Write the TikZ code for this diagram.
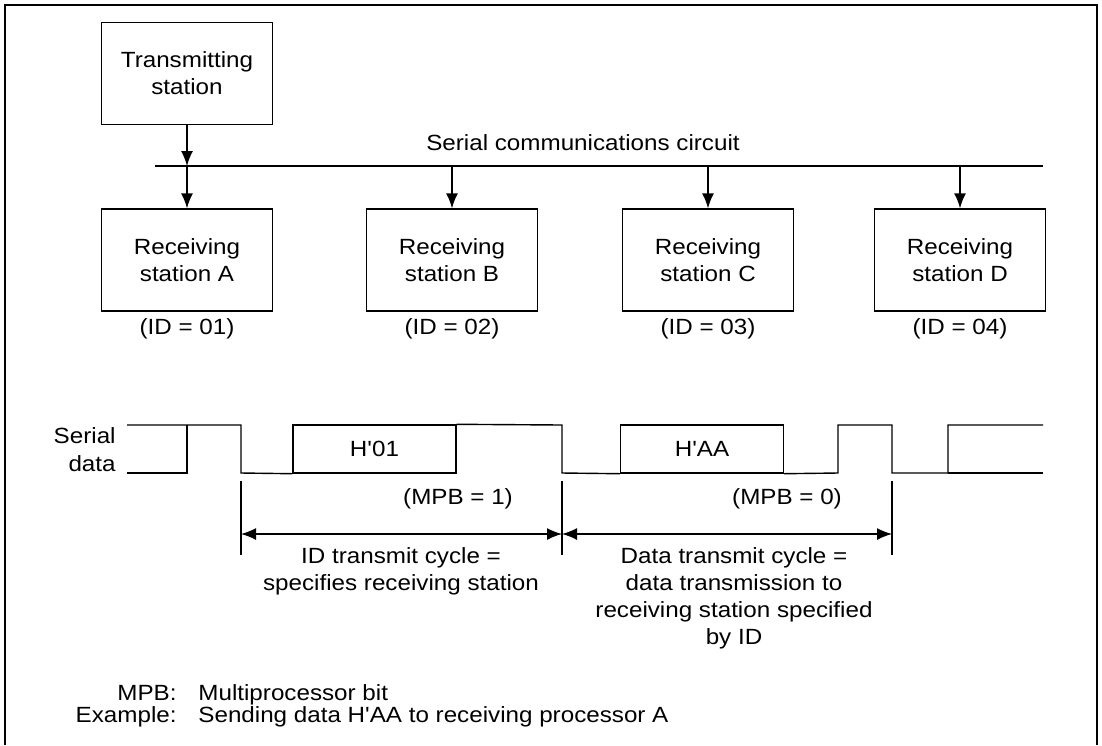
\documentclass[tikz,border=0pt]{standalone}
\usepackage{fontspec}
\setmainfont[FakeStretch=1.1,Ligatures=TeXOff]{Liberation Sans}
\usetikzlibrary{arrows.meta,positioning,calc}

\begin{document}
\begin{tikzpicture}[x=0.5pt,y=-0.5pt,>={Latex[length=7.5pt,width=6pt]},
  every node/.style={font=\fontsize{11}{13.5}\selectfont,inner sep=0pt},
  station/.style={draw,line width=0.7pt,minimum width=85.5pt,minimum height=51pt,align=center},
  dataframe/.style={draw,line width=0.7pt,minimum width=81.5pt,minimum height=24pt},
  wire/.style={line width=0.7pt}]
  \useasboundingbox (0,0) rectangle (1102,745);
  \draw[line width=1pt] (5,745) -- (5,5) -- (1097,5) -- (1097,745);
  % stations and bus
  \node[station] (tx) at (187,73.5) {Transmitting\\station};
  \coordinate (busL) at (155,166);
  \coordinate (busR) at (1043,166);
  \draw[wire] (busL) -- (busR);
  \node (buslabel) at (583,143) {Serial communications circuit};
  \draw[wire,->] (tx.south) -- (tx.south |- busL);
  \foreach \s/\x/\n in {A/187/01,B/452/02,C/708/03,D/960/04}{
    \node[station] (rx\s) at (\x,260) {Receiving\\station \s};
    \draw[wire,->] (rx\s.north |- busL) -- (rx\s.north);
    \node (id\s) at (\x,329) {(ID = \n)};
  }
  % serial data waveform
  \node[align=right,anchor=north east,font=\fontsize{11}{14}\selectfont] (serlabel) at (116,427) {Serial\\data};
  \node[dataframe] (f01) at (374.5,449) {H'01};
  \node[dataframe] (fAA) at (702,449) {H'AA};
  \draw[wire] (127,473) -- (187,473) -- (187,425);
  \draw[wire] (127,425) -- (241,425) -- (241,473) -- (f01.south west);
  \draw[wire] (f01.north east) -- (562,425) -- (562,473) -- (fAA.south west);
  \draw[wire] (fAA.south east) -- (838,473) -- (838,425) -- (892,425) -- (892,473)
    -- (948,473) -- (948,425) -- (1043,425);
  \draw[wire] (948,473) -- (1043,473);
  \node (mpb1) at (458,499) {(MPB = 1)};
  \node (mpb0) at (787,499) {(MPB = 0)};
  % transmit cycles
  \foreach \n/\x in {1/241,2/562,3/892}{
    \draw[wire] (\x,481) -- (\x,555);
    \coordinate (dim\n) at (\x,534);
  }
  \draw[wire,<->] (dim1) -- (dim2);
  \draw[wire,<->] (dim2) -- (dim3);
  \node[align=center,anchor=north] (idcycle) at (401,547) {ID transmit cycle =\\specifies receiving station};
  \node[align=center,anchor=north] (datacycle) at (734,547) {Data transmit cycle =\\data transmission to\\receiving station specified\\by ID};
  % notes
  \node[anchor=base east] (mpbkey) at (177,700) {MPB:};
  \node[anchor=base west] (mpbtext) at (198,700) {Multiprocessor bit};
  \node[anchor=base east] (exkey) at (177,722) {Example:};
  \node[anchor=base west] (extext) at (198,722) {Sending data H'AA to receiving processor A};
\end{tikzpicture}
\end{document}
